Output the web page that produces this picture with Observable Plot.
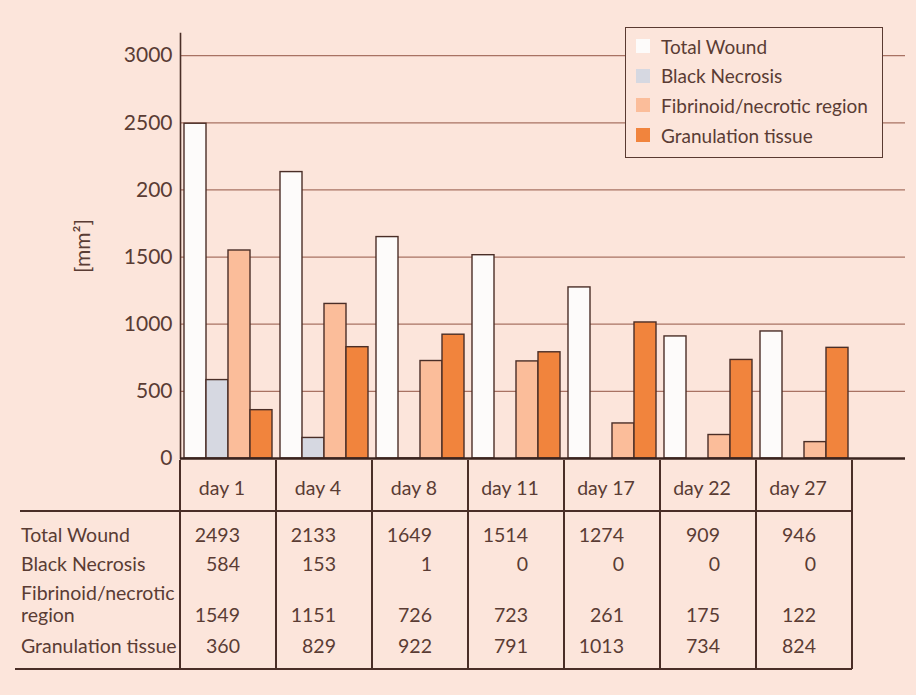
<!DOCTYPE html>
<html>
<head>
<meta charset="utf-8">
<script src="https://cdn.jsdelivr.net/npm/d3@7"></script>
<script src="https://cdn.jsdelivr.net/npm/@observablehq/plot@0.6"></script>
<style>
  body { margin: 0; background: #fce5db; }
  #wrap { position: relative; width: 916px; height: 695px; font-family: Lato, "Open Sans", sans-serif; color: #5a3c34; }
  #wrap svg { position: absolute; left: 0; top: 0; }
  .legend { position: absolute; left: 625px; top: 27px; width: 256px; height: 129px; border: 1.5px solid #5a3a31; background: #fce5db; }
  .legend .item { position: absolute; left: 10px; height: 22px; display: flex; align-items: center; font-size: 19px; white-space: nowrap; }
  .legend .sw { width: 14px; height: 14px; margin-right: 11px; }
  .tbl { position: absolute; left: 0; top: 0; width: 916px; height: 695px; pointer-events: none; }
  .tbl .line { position: absolute; background: #4a2e27; }
  .tbl .txt { position: absolute; font-size: 19.5px; line-height: 22px; white-space: nowrap; }
</style>
</head>
<body>
<div id="wrap"></div>
<script>
// Wound areas (mm²) per assessment day
const days = ["day 1", "day 4", "day 8", "day 11", "day 17", "day 22", "day 27"];
const seriesNames = ["Total Wound", "Black Necrosis", "Fibrinoid/necrotic region", "Granulation tissue"];
const totalWound = [2493, 2133, 1649, 1514, 1274, 909, 946];
const blackNecrosis = [584, 153, 1, 0, 0, 0, 0];
const fibrinoid = [1549, 1151, 726, 723, 261, 175, 122];
const granulation = [360, 829, 922, 791, 1013, 734, 824];
const yTicks = [0, 500, 1000, 1500, 2000, 2500, 3000];
const yTickLabels = ["0", "500", "1000", "1500", "200", "2500", "3000"];
const yLabel = "[mm²]";
const tableRowLabels = ["Total Wound", "Black Necrosis", "Fibrinoid/necrotic<br>region", "Granulation tissue"];
const colors = ["#fdfbfa", "#d6d8e1", "#fbbd9a", "#f1843d"];

const seriesValues = [totalWound, blackNecrosis, fibrinoid, granulation];
const rows = seriesValues.flatMap((vals, s) =>
  vals.map((v, i) => ({day: days[i], series: seriesNames[s], value: v})));

const W = 916, H = 472, left = 180, groupRight = 852, right = 905;
const plotTop = 33, plotBottom = 458;
const bw = (groupRight - left) / days.length;   // width of one day group
const pad = 4, barW = (bw - 2 * pad) / seriesNames.length;

const ink = "#4a2e27";

const barMarks = seriesNames.map((name, s) =>
  Plot.barY(rows.filter(d => d.series === name), {
    x: "day", y: "value",
    fill: colors[s], stroke: ink, strokeWidth: 1.4,
    insetLeft: pad + barW * s,
    insetRight: bw - pad - barW * (s + 1)
  }));

const chart = Plot.plot({
  width: W, height: H,
  marginLeft: left, marginRight: W - right, marginTop: plotTop, marginBottom: H - plotBottom,
  style: {background: "transparent", fontFamily: "Lato, 'Open Sans', sans-serif", fontSize: "21px", color: "#5a3c34"},
  x: {domain: days, range: [left, groupRight], padding: 0, axis: null},
  y: {domain: [0, 3165], ticks: yTicks, tickFormat: d => yTickLabels[yTicks.indexOf(d)],
      tickSize: 0, tickPadding: 8, label: null},
  marks: [
    Plot.ruleY(yTicks.filter(d => d > 0), {stroke: "#a87263", strokeWidth: 1.2}),
    ...barMarks,
    Plot.frame({anchor: "left", stroke: ink, strokeWidth: 1.6}),
    Plot.ruleY([0], {stroke: "#3a231e", strokeWidth: 2.6}),
    Plot.text([yLabel], {text: d => d, frameAnchor: "left", textAnchor: "middle", lineAnchor: "middle",
                         rotate: -90, dx: -97, fontSize: 21, fill: "#5a3c34"})
  ]
});

const wrap = document.getElementById("wrap");
wrap.appendChild(chart);

// Legend box
const legend = document.createElement("div");
legend.className = "legend";
seriesNames.forEach((name, s) => {
  const it = document.createElement("div");
  it.className = "item";
  it.style.top = (7 + s * 29.7) + "px";
  it.innerHTML = `<span class="sw" style="background:${colors[s]}"></span>${name}`;
  legend.appendChild(it);
});
wrap.appendChild(legend);

// Data table under the chart, columns aligned to the x bands
const xs = chart.scale("x");
const band = xs.bandwidth;
const tbl = document.createElement("div");
tbl.className = "tbl";
const add = (cls, css, html) => {
  const e = document.createElement("div");
  e.className = cls;
  Object.assign(e.style, css);
  if (html != null) e.innerHTML = html;
  tbl.appendChild(e);
  return e;
};
const tableTop = 460, headLine = 510, tableBottom = 668;
const edges = days.map(d => xs.apply(d)).concat([xs.apply(days[days.length - 1]) + band]);
edges.forEach(x => add("line", {left: (x - 0.75) + "px", top: tableTop + "px", width: "1.5px", height: (tableBottom - tableTop + 1) + "px"}));
add("line", {left: "20px", top: headLine + "px", width: (groupRight - 20) + "px", height: "1.5px"});
add("line", {left: "15px", top: tableBottom + "px", width: (groupRight - 15) + "px", height: "1.8px"});
days.forEach(d => {
  const x0 = xs.apply(d);
  add("txt", {left: (x0 - 6) + "px", width: band + "px", top: (488 - 11) + "px", textAlign: "center"}, d);
});
const rowY = [535, 564, 615, 646];
tableRowLabels.forEach((lab, r) => {
  const yTop = r === 2 ? 593 - 11 : rowY[r] - 11;
  add("txt", {left: "21px", top: yTop + "px"}, lab);
  seriesValues[r].forEach((v, i) => {
    const x0 = xs.apply(days[i]);
    add("txt", {left: x0 + "px", width: "60px", top: (rowY[r] - 11) + "px", textAlign: "right"}, String(v));
  });
});
wrap.appendChild(tbl);
</script>
</body>
</html>
